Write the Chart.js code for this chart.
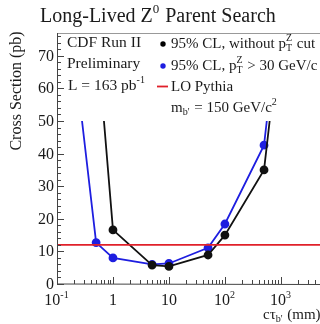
<!DOCTYPE html>
<html>
<head>
<meta charset="utf-8">
<script src="https://cdn.jsdelivr.net/npm/chart.js@4.4.0/dist/chart.umd.min.js"></script>
<style>
  html, body { margin: 0; padding: 0; background: #fff; }
  #wrap { width: 320px; height: 324px; position: relative; }
</style>
</head>
<body>
<div id="wrap"><canvas id="chart"></canvas></div>
<script>
// values
const noCutX = [0.69, 1, 5, 10, 50, 100, 500, 630];
const noCutY = [50, 16.6, 5.8, 5.4, 8.9, 15.0, 35.0, 50];
const ptCutX = [0.28, 0.5, 1, 5, 10, 50, 100, 500, 560];
const ptCutY = [50, 12.7, 8.0, 6.0, 6.3, 11.1, 18.4, 42.6, 50];
const pythiaX = [0.1, 5000];
const pythiaY = [12, 12];
const yTicks = [0, 10, 20, 30, 40, 50, 60, 70];
const xTicks = [0.1, 1, 10, 100, 1000];
const xTickLabels = [['10', '-1'], ['1', ''], ['10', ''], ['10', '2'], ['10', '3']];

const FONT = '"Liberation Serif", "Times New Roman", serif';

function toPoints(xs, ys) {
    return xs.map((x, i) => ({ x: x, y: ys[i] }));
}

function edgeRadius(xs, r) {
    return xs.map((x, i) => (i === 0 || i === xs.length - 1) ? 0 : r);
}

// draws text made of pieces: {t} normal, {sup}, {sub}, {sup, sub} stacked
function rich(ctx, x, y, parts, size) {
    let cx = x;
    const small = Math.round(size * 0.65);
    parts.forEach(p => {
        if (p.t !== undefined) {
            ctx.font = size + 'px ' + FONT;
            ctx.fillText(p.t, cx, y);
            cx += ctx.measureText(p.t).width;
        } else {
            ctx.font = small + 'px ' + FONT;
            let w = 0;
            if (p.sup) {
                ctx.fillText(p.sup, cx, y - size * 0.45);
                w = Math.max(w, ctx.measureText(p.sup).width);
            }
            if (p.sub) {
                ctx.fillText(p.sub, cx, y + size * 0.22);
                w = Math.max(w, ctx.measureText(p.sub).width);
            }
            cx += w + 1;
        }
    });
    return cx - x;
}

const decorPlugin = {
    id: 'decor',
    afterDraw(chart) {
        const ctx = chart.ctx;
        const a = chart.chartArea;
        const xs = chart.scales.x;
        const ys = chart.scales.y;
        ctx.save();
        ctx.fillStyle = '#1a1a1a';
        ctx.textBaseline = 'alphabetic';
        ctx.textAlign = 'left';

        // frame
        ctx.strokeStyle = '#999';
        ctx.lineWidth = 1;
        ctx.beginPath();
        ctx.moveTo(a.left, a.top + 0.5);
        ctx.lineTo(a.right, a.top + 0.5);
        ctx.stroke();
        ctx.strokeStyle = '#444';
        ctx.beginPath();
        ctx.moveTo(a.left + 0.5, a.top);
        ctx.lineTo(a.left + 0.5, a.bottom);
        ctx.lineTo(a.right, a.bottom + 0.5);
        ctx.stroke();

        // y ticks, inward
        ctx.beginPath();
        for (let v = 0; v <= ys.max; v += 2) {
            const py = Math.round(ys.getPixelForValue(v)) + 0.5;
            const len = v % 10 === 0 ? 7 : 4;
            ctx.moveTo(a.left, py);
            ctx.lineTo(a.left + len, py);
        }
        // x ticks, inward
        for (let d = 0.1; d < xs.max; d *= 10) {
            for (let k = 1; k <= 9; k++) {
                const v = d * k;
                if (v > xs.max) break;
                const px = Math.round(xs.getPixelForValue(v)) + 0.5;
                const len = k === 1 ? 7 : 4;
                ctx.moveTo(px, a.bottom);
                ctx.lineTo(px, a.bottom - len);
            }
        }
        ctx.stroke();

        // y tick labels
        ctx.font = '16px ' + FONT;
        ctx.textAlign = 'right';
        yTicks.forEach(v => {
            ctx.fillText(String(v), a.left - 3, ys.getPixelForValue(v) + 5);
        });

        // x tick labels
        ctx.textAlign = 'left';
        xTicks.forEach((v, i) => {
            const lab = xTickLabels[i];
            ctx.font = '16px ' + FONT;
            let w = ctx.measureText(lab[0]).width;
            ctx.font = '10px ' + FONT;
            const ws = lab[1] ? ctx.measureText(lab[1]).width + 1 : 0;
            const px = xs.getPixelForValue(v) - (w + ws) / 2;
            rich(ctx, px, 305, lab[1] ? [{ t: lab[0] }, { sup: lab[1] }] : [{ t: lab[0] }], 16);
        });

        // title
        rich(ctx, 40, 22, [{ t: 'Long-Lived Z' }, { sup: '0' }, { t: ' Parent Search' }], 20);

        // axis titles
        rich(ctx, 263, 319, [{ t: 'cτ' }, { sub: "b'" }, { t: ' (mm)' }], 15);
        ctx.save();
        ctx.translate(21, 91);
        ctx.rotate(-Math.PI / 2);
        ctx.font = '16px ' + FONT;
        ctx.textAlign = 'center';
        ctx.fillText('Cross Section (pb)', 0, 0);
        ctx.restore();

        // text block
        ctx.textAlign = 'left';
        rich(ctx, 67, 47, [{ t: 'CDF Run II' }], 15.5);
        rich(ctx, 67, 68, [{ t: 'Preliminary' }], 15.5);
        rich(ctx, 68, 90, [{ t: 'L = 163 pb' }, { sup: '-1' }], 15.5);

        // legend
        const fs = 15;
        ctx.fillStyle = '#000';
        ctx.beginPath();
        ctx.arc(163, 44, 2.7, 0, Math.PI * 2);
        ctx.fill();
        ctx.fillStyle = '#1e1ee0';
        ctx.beginPath();
        ctx.arc(163, 66, 2.7, 0, Math.PI * 2);
        ctx.fill();
        ctx.strokeStyle = '#e0202a';
        ctx.lineWidth = 1.8;
        ctx.beginPath();
        ctx.moveTo(157, 86.5);
        ctx.lineTo(168, 86.5);
        ctx.stroke();

        ctx.fillStyle = '#1a1a1a';
        rich(ctx, 171, 48, [{ t: '95% CL, without p' }, { sup: 'Z', sub: 'T' }, { t: ' cut' }], fs);
        rich(ctx, 171, 70, [{ t: '95% CL, p' }, { sup: 'Z', sub: 'T' }, { t: ' > 30 GeV/c' }], fs);
        rich(ctx, 171, 91, [{ t: 'LO Pythia' }], fs);
        rich(ctx, 171, 112, [{ t: 'm' }, { sub: "b'" }, { t: ' = 150 GeV/c' }, { sup: '2' }], fs);

        ctx.restore();
    }
};

new Chart(document.getElementById('chart'), {
    type: 'line',
    data: {
        datasets: [
            {
                label: 'LO Pythia',
                data: toPoints(pythiaX, pythiaY),
                borderColor: '#e0202a',
                borderWidth: 1.8,
                pointRadius: 0
            },
            {
                label: '95% CL, without pT cut',
                data: toPoints(noCutX, noCutY),
                borderColor: '#111',
                backgroundColor: '#111',
                borderWidth: 1.8,
                pointRadius: edgeRadius(noCutX, 3.5),
                tension: 0
            },
            {
                label: '95% CL, pT > 30 GeV/c',
                data: toPoints(ptCutX, ptCutY),
                borderColor: '#1e1ee0',
                backgroundColor: '#1e1ee0',
                borderWidth: 1.8,
                pointRadius: edgeRadius(ptCutX, 3.5),
                tension: 0
            }
        ]
    },
    options: {
        responsive: true,
        maintainAspectRatio: false,
        animation: false,
        layout: { padding: { top: 33, right: 0, left: 0, bottom: 0 } },
        plugins: {
            legend: { display: false },
            tooltip: { enabled: false },
            title: { display: false }
        },
        scales: {
            x: {
                type: 'logarithmic',
                min: 0.1,
                max: 5000,
                grid: { display: false },
                border: { display: false },
                ticks: { display: false },
                afterFit: s => { s.height = 40; }
            },
            y: {
                min: 0,
                max: 77,
                grid: { display: false },
                border: { display: false },
                ticks: { display: false },
                afterFit: s => { s.width = 57; }
            }
        }
    },
    plugins: [decorPlugin]
});
</script>
</body>
</html>
